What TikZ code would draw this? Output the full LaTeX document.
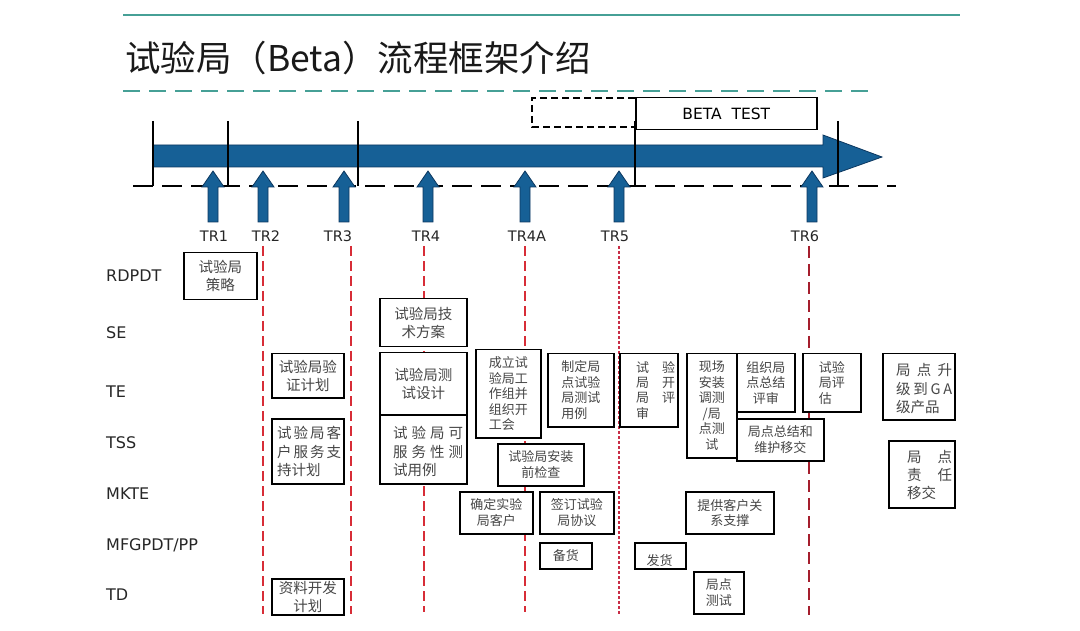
\documentclass[tikz,border=0pt]{standalone}
\usepackage{fontspec}
\setmainfont{DejaVu Sans}
\newfontfamily\cjk{Noto Sans CJK SC}
\definecolor{teal1}{RGB}{70,160,150}
\definecolor{barblue}{RGB}{22,96,150}
\definecolor{bardark}{RGB}{12,55,95}
\definecolor{redl}{RGB}{215,45,55}
\definecolor{redm}{RGB}{200,45,70}
\definecolor{redd}{RGB}{165,30,45}
\definecolor{txtgray}{RGB}{70,70,70}
\tikzset{
  bxs/.style={draw=black, line width=1.5pt, fill=white, inner sep=0pt, align=center,
    text=txtgray, anchor=north west, font=\cjk\fontsize{13}{15.5}\selectfont},
  big/.style={font=\cjk\fontsize{14.5}{18}\selectfont},
  txtn/.style={inner sep=0pt, align=left, text=txtgray, anchor=base west},
  rowlab/.style={font=\fontsize{16}{18}\selectfont, anchor=base west, inner sep=0pt, text=black!85},
  trlab/.style={font=\fontsize{14.5}{16}\selectfont, anchor=base, inner sep=0pt, text=black!85},
  guide/.style={redl, line width=1.8pt, dash pattern=on 10pt off 5pt},
  upar/.style={fill=barblue, draw=bardark, line width=0.8pt},
  phase/.style={black, line width=2.8pt},
  basel/.style={black, line width=2.8pt, dash pattern=on 20pt off 9pt},
}
\begin{document}
\begin{tikzpicture}[x=1pt,y=-1pt]
\useasboundingbox (0,0) rectangle (1080,631);

% header lines and title
\coordinate (tl1) at (123,15); \coordinate (tl2) at (960,15);
\draw[teal1, line width=1.4pt] (tl1) -- (tl2);
\node[font=\cjk\fontsize{35.5}{40}\selectfont, anchor=base west, inner sep=0pt, text=black!90] (title) at (125,72) {试验局（Beta）流程框架介绍};
\coordinate (dl1) at (123,91); \coordinate (dl2) at (868,91);
\draw[teal1, line width=2.8pt, dash pattern=on 17pt off 9pt] (dl1) -- (dl2);

% beta test boxes
\draw[black, line width=1.5pt, dash pattern=on 7pt off 4pt] (635,98) -- (532,98) -- (532,127) -- (635,127);
\node[draw=black, line width=1.5pt, fill=white, minimum width=181pt, minimum height=32pt, anchor=north west, inner sep=0pt, font=\fontsize{15.5}{17}\selectfont] (beta) at (635,97) {BETA~~TEST};

% timeline bar
\fill[upar] (153,145) -- (823,145) -- (823,135) -- (882,157) -- (823,178) -- (823,167) -- (153,167) -- cycle;

% phase lines
\foreach \px in {153,228,358,635,838} {
  \draw[phase] (\px,121) -- (\px,186);
}
\coordinate (bl) at (133,186); \coordinate (br) at (896,186);
\draw[basel] (bl) -- (br);

% up arrows
\foreach \ax in {213,263,344,428,525,619,812} {
  \filldraw[upar] (\ax-5,222) -- (\ax-5,187) -- (\ax-11,187) -- (\ax,171) -- (\ax+11,187) -- (\ax+5,187) -- (\ax+5,222) -- cycle;
}

% TR labels
\node[trlab] (tr1) at (214,242) {TR1};
\node[trlab] (tr2) at (266,242) {TR2};
\node[trlab] (tr3) at (338,242) {TR3};
\node[trlab] (tr4) at (426,242) {TR4};
\node[trlab] (tr4a) at (527,242) {TR4A};
\node[trlab] (tr5) at (615,242) {TR5};
\node[trlab] (tr6) at (805,242) {TR6};

% guide lines
\coordinate (g2a) at (263,246); \coordinate (g2b) at (263,614);
\coordinate (g3a) at (351,246); \coordinate (g3b) at (351,614);
\coordinate (g4a) at (424,246); \coordinate (g4b) at (424,612);
\coordinate (g5a) at (525,246); \coordinate (g5b) at (525,612);
\coordinate (g6a) at (619,246); \coordinate (g6b) at (619,615);
\coordinate (g7a) at (809,246); \coordinate (g7b) at (809,615);
\draw[guide] (g2a) -- (g2b);
\draw[guide] (g3a) -- (g3b);
\draw[guide] (g4a) -- (g4b);
\draw[guide] (g5a) -- (g5b);
\draw[redm, line width=1.3pt, dash pattern=on 3pt off 2pt] (g6a) -- (g6b);
\draw[redd, line width=2pt, dash pattern=on 12pt off 6pt] (g7a) -- (g7b);

% row labels
\node[rowlab] (r1) at (106,281.5) {RDPDT};
\node[rowlab] (r2) at (106,339) {SE};
\node[rowlab] (r3) at (106,397) {TE};
\node[rowlab] (r4) at (106,448) {TSS};
\node[rowlab] (r5) at (106,499) {MKTE};
\node[rowlab] (r6) at (106,550) {MFGPDT/PP};
\node[rowlab] (r7) at (106,600) {TD};

% boxes
\node[bxs,big,minimum width=73pt,minimum height=47pt] (s1) at (183,252) {试验局\\策略};
\node[bxs,big,minimum width=87pt,minimum height=48pt] (s2) at (379,298) {试验局技\\术方案};
\node[bxs,big,minimum width=72pt,minimum height=44pt] (s3) at (271,353) {试验局验\\证计划};
\node[bxs,big,minimum width=87pt,minimum height=62pt] (s4) at (379,352) {试验局测\\试设计};
\node[bxs,big,minimum width=87pt,minimum height=69pt] (s5) at (379,414) {};
\node[txtn,font=\cjk\fontsize{14.5}{18.5}\selectfont] (t5) at (393,475.5) {\makebox[70pt][s]{试\hfill 验\hfill 局\hfill 可}\\\makebox[70pt][s]{服\hfill 务\hfill 性\hfill 测}\\试用例};
\node[bxs,big,minimum width=72pt,minimum height=65pt] (s6) at (271,418) {};
\node[txtn,font=\cjk\fontsize{14.5}{18.5}\selectfont] (t6) at (277,475.5) {\makebox[64pt][s]{试\hfill 验\hfill 局\hfill 客}\\\makebox[64pt][s]{户\hfill 服\hfill 务\hfill 支}\\持计划};
\node[bxs,align=left,minimum width=65pt,minimum height=88pt] (s7) at (475,349) {成立试\\验局工\\作组并\\组织开\\工会};
\node[bxs,align=left,minimum width=66pt,minimum height=73pt] (s8) at (547,353) {制定局\\点试验\\局测试\\用例};
\node[bxs,minimum width=58pt,minimum height=73pt] (s9) at (619,353) {};
\node[txtn,font=\cjk\fontsize{13}{15.3}\selectfont] (t9) at (636,418) {\makebox[39pt][s]{试\hfill 验}\\\makebox[39pt][s]{局\hfill 开}\\\makebox[39pt][s]{局\hfill 评}\\审};
\node[bxs,minimum width=50pt,minimum height=104pt] (s10) at (686,353) {现场\\安装\\调测\\/局\\点测\\试};
\node[bxs,minimum width=58pt,minimum height=58pt] (s11) at (736,353) {组织局\\点总结\\评审};
\node[bxs,align=left,minimum width=58pt,minimum height=58pt] (s12) at (802,353) {试验\\局评\\估};
\node[bxs,minimum width=87pt,minimum height=42pt] (s13) at (736,418) {局点总结和\\维护移交};
\node[bxs,minimum width=72pt,minimum height=66pt] (s14) at (882,353) {};
\node[txtn,font=\cjk\fontsize{14.5}{18.5}\selectfont] (t14) at (896,412.5) {\makebox[56pt][s]{局\hfill 点\hfill 升}\\\makebox[56pt][s]{级\hfill 到\hfill G\hfill A}\\级产品};
\node[bxs,minimum width=66pt,minimum height=67pt] (s15) at (888,440) {};
\node[txtn,font=\cjk\fontsize{14.5}{18}\selectfont] (t15) at (907,498.5) {\makebox[45pt][s]{局\hfill 点}\\\makebox[45pt][s]{责\hfill 任}\\移交};
\node[bxs,minimum width=86pt,minimum height=42pt] (s16) at (497,443) {试验局安装\\前检查};
\node[bxs,minimum width=73pt,minimum height=42pt] (s17) at (459,491) {确定实验\\局客户};
\node[bxs,minimum width=74pt,minimum height=42pt] (s18) at (539,491) {签订试验\\局协议};
\node[bxs,minimum width=52pt,minimum height=26pt] (s19) at (539,542) {备货};
\node[bxs,minimum width=51pt,minimum height=26pt] (s20) at (634,542) {};
\node[txtn,anchor=base,font=\cjk\fontsize{13}{15.5}\selectfont] (t20) at (659.5,565) {发货};
\node[bxs,minimum width=88pt,minimum height=42pt] (s21) at (685,491) {提供客户关\\系支撑};
\node[bxs,minimum width=50pt,minimum height=42pt] (s22) at (693,571) {局点\\测试};
\node[bxs,big,minimum width=72pt,minimum height=36pt] (s23) at (271,578) {资料开发\\计划};

\end{tikzpicture}
\end{document}
